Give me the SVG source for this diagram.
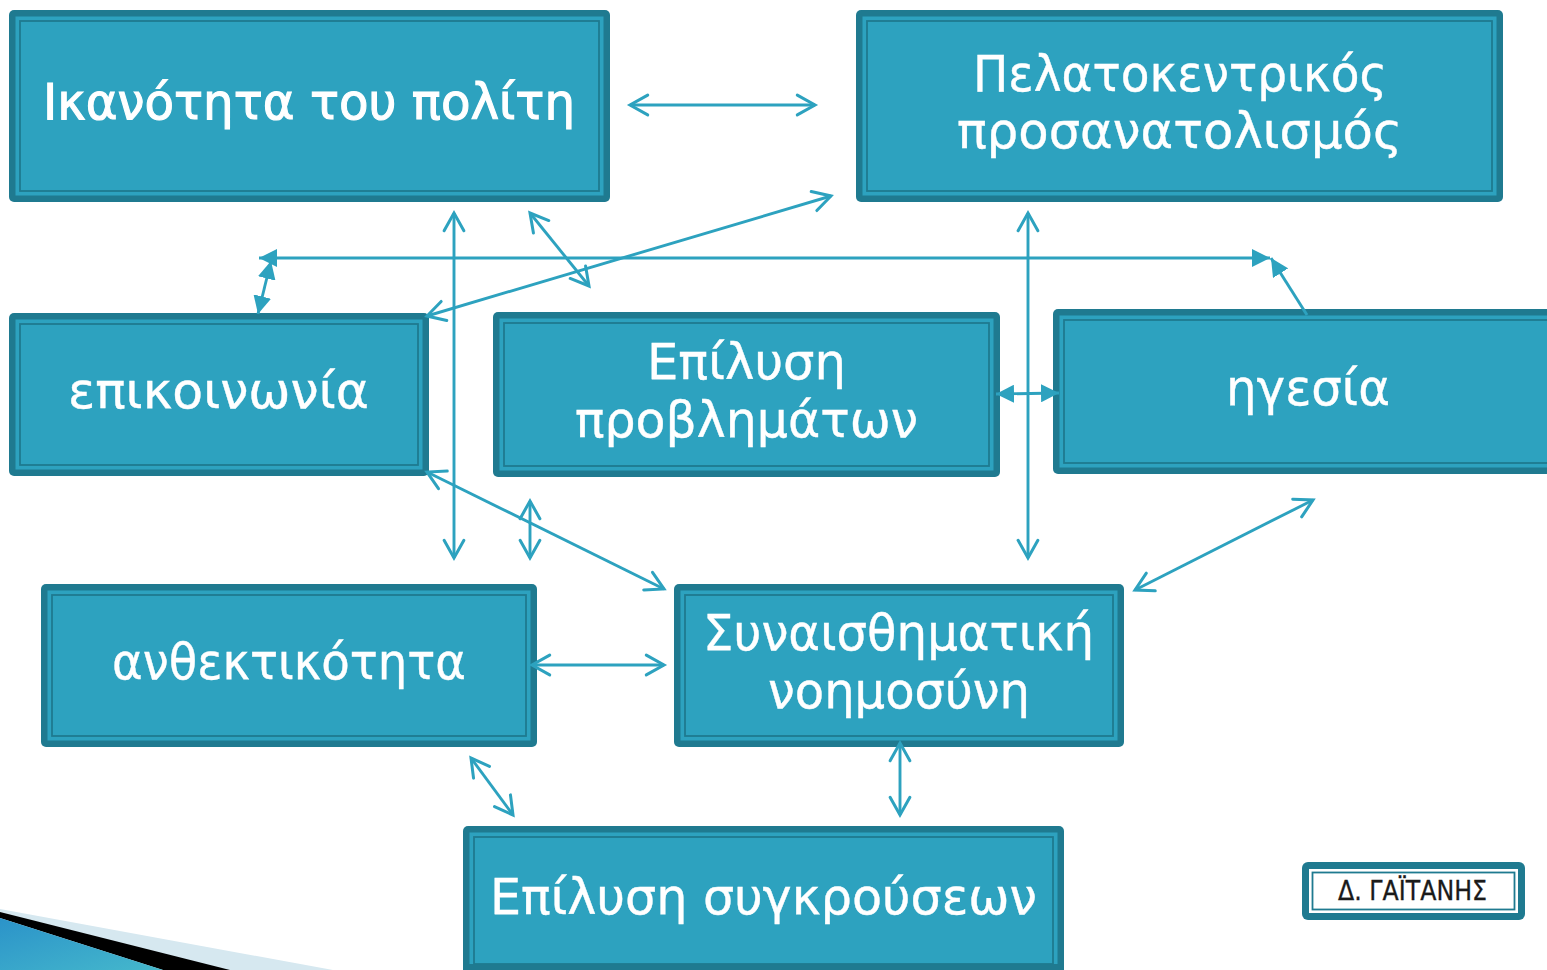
<svg xmlns="http://www.w3.org/2000/svg" width="1547" height="970" viewBox="0 0 1547 970">
<style>
.o{fill:#1f7a90}.m{fill:#2da2bf}.i{fill:none;stroke:#1f7a90;stroke-width:1.8}
.t{font-family:"DejaVu Sans",sans-serif;font-size:50px;fill:#fff;stroke:#fff;stroke-width:.4}
.b{stroke-width:1.1}
.c{fill:none;stroke:#2da2bf;stroke-width:2.9}
.a{marker-start:url(#oa);marker-end:url(#oa)}
.f{marker-start:url(#fa);marker-end:url(#fa)}
</style>
<defs>
<marker id="oa" markerUnits="userSpaceOnUse" markerWidth="25" markerHeight="25" refX="20" refY="12" orient="auto-start-reverse" viewBox="0 0 24 24"><path d="M3 2.500L20 12L3 21.500" fill="none" stroke="#2da2bf" stroke-width="2.900" stroke-linecap="round"/></marker>
<marker id="fa" markerUnits="userSpaceOnUse" markerWidth="18" markerHeight="18" refX="16" refY="8" orient="auto-start-reverse" viewBox="0 0 16 16"><path d="M0 0L16 8L0 16Z" fill="#2da2bf"/></marker>
<linearGradient id="g" x1="0" y1="0" x2="1" y2="1"><stop offset="0" stop-color="#2b93c9"/><stop offset="1" stop-color="#45b8cc"/></linearGradient>
</defs>
<rect width="1547" height="970" fill="#fff"/>
<g id="corner">
<polygon points="0,909 333,970 0,970" fill="#d6e8f0"/>
<polygon points="0,912 230,970 163,970 0,918" fill="#000"/>
<polygon points="0,918 163,970 0,970" fill="url(#g)"/>
</g>
<g id="n1"><rect class="o" x="9" y="10" width="601" height="192" rx="5"/><rect class="m" x="15.500" y="16.500" width="588" height="179"/><rect class="i" x="20" y="21" width="579" height="170"/><text class="t b" x="43" y="118.500" textLength="532" lengthAdjust="spacingAndGlyphs">Ικανότητα του πολίτη</text></g>
<g id="n2"><rect class="o" x="856" y="10" width="647" height="192" rx="5"/><rect class="m" x="862.500" y="16.500" width="634" height="179"/><rect class="i" x="867" y="21" width="625" height="170"/><text class="t" x="973" y="91" textLength="414" lengthAdjust="spacingAndGlyphs">Πελατοκεντρικός</text><text class="t" x="957" y="148" textLength="445" lengthAdjust="spacingAndGlyphs">προσανατολισμός</text></g>
<g id="n3"><rect class="o" x="9" y="313" width="420" height="163" rx="5"/><rect class="m" x="15.500" y="319.500" width="407" height="150"/><rect class="i" x="20" y="324" width="398" height="141"/><text class="t" x="68" y="407.500" textLength="301" lengthAdjust="spacingAndGlyphs">επικοινωνία</text></g>
<g id="n4"><rect class="o" x="493" y="312" width="507" height="165" rx="5"/><rect class="m" x="499.500" y="318.500" width="494" height="152"/><rect class="i" x="504" y="323" width="485" height="143"/><text class="t" x="647" y="379" textLength="199" lengthAdjust="spacingAndGlyphs">Επίλυση</text><text class="t" x="575" y="436.500" textLength="343" lengthAdjust="spacingAndGlyphs">προβλημάτων</text></g>
<g id="n5"><rect class="o" x="1053" y="309" width="520" height="165" rx="5"/><rect class="m" x="1059.500" y="315.500" width="507" height="152"/><rect class="i" x="1064" y="320" width="498" height="143"/><text class="t" x="1226" y="404.500" textLength="164" lengthAdjust="spacingAndGlyphs">ηγεσία</text></g>
<g id="n6"><rect class="o" x="41" y="584" width="496" height="163" rx="5"/><rect class="m" x="47.500" y="590.500" width="483" height="150"/><rect class="i" x="52" y="595" width="474" height="141"/><text class="t" x="112" y="679" textLength="354" lengthAdjust="spacingAndGlyphs">ανθεκτικότητα</text></g>
<g id="n7"><rect class="o" x="674" y="584" width="450" height="163" rx="5"/><rect class="m" x="680.500" y="590.500" width="437" height="150"/><rect class="i" x="685" y="595" width="428" height="141"/><text class="t" x="703" y="650" textLength="391" lengthAdjust="spacingAndGlyphs">Συναισθηματική</text><text class="t" x="768" y="708" textLength="262" lengthAdjust="spacingAndGlyphs">νοημοσύνη</text></g>
<g id="n8"><rect class="o" x="463" y="826" width="601" height="165" rx="5"/><rect class="m" x="469.500" y="832.500" width="588" height="131.500"/><rect class="i" x="474" y="837" width="579" height="127"/><rect class="o" x="463" y="967" width="601" height="3"/><text class="t" x="490" y="914" textLength="547" lengthAdjust="spacingAndGlyphs">Επίλυση συγκρούσεων</text></g>
<g id="n9"><rect class="o" x="1302" y="862" width="223" height="58" rx="6"/><rect x="1309" y="869" width="209" height="44" fill="#fff"/><rect x="1312.500" y="872.500" width="202" height="37" fill="#fff" stroke="#1f7a90" stroke-width="1.800"/><text x="1338" y="900" font-family="DejaVu Sans, sans-serif" font-size="26" fill="#1a1a1a" stroke="#1a1a1a" stroke-width=".3" textLength="149" lengthAdjust="spacingAndGlyphs">Δ. ΓΑΪΤΑΝΗΣ</text></g>
<g id="connectors">
<line class="c a" x1="630" y1="105" x2="815" y2="105"/>
<line class="c a" x1="454" y1="213" x2="454" y2="558"/>
<line class="c a" x1="530" y1="213" x2="589" y2="286"/>
<line class="c a" x1="427" y1="316" x2="831" y2="196"/>
<line class="c a" x1="1028" y1="213" x2="1028" y2="558"/>
<line class="c a" x1="530" y1="501" x2="530" y2="558"/>
<line class="c a" x1="427" y1="472" x2="664" y2="589"/>
<line class="c a" x1="1135" y1="590" x2="1313" y2="500"/>
<line class="c a" x1="532" y1="665" x2="664" y2="665"/>
<line class="c a" x1="471" y1="758" x2="513" y2="815"/>
<line class="c a" x1="900" y1="743" x2="900" y2="815"/>
<line class="c f" x1="259" y1="258" x2="1270" y2="258"/>
<line class="c" x1="1307" y1="315" x2="1271" y2="258" marker-end="url(#fa)"/>
<line class="c f" x1="258" y1="314" x2="271" y2="261"/>
<line class="c f" x1="996" y1="394" x2="1059" y2="393"/>
</g>
</svg>
